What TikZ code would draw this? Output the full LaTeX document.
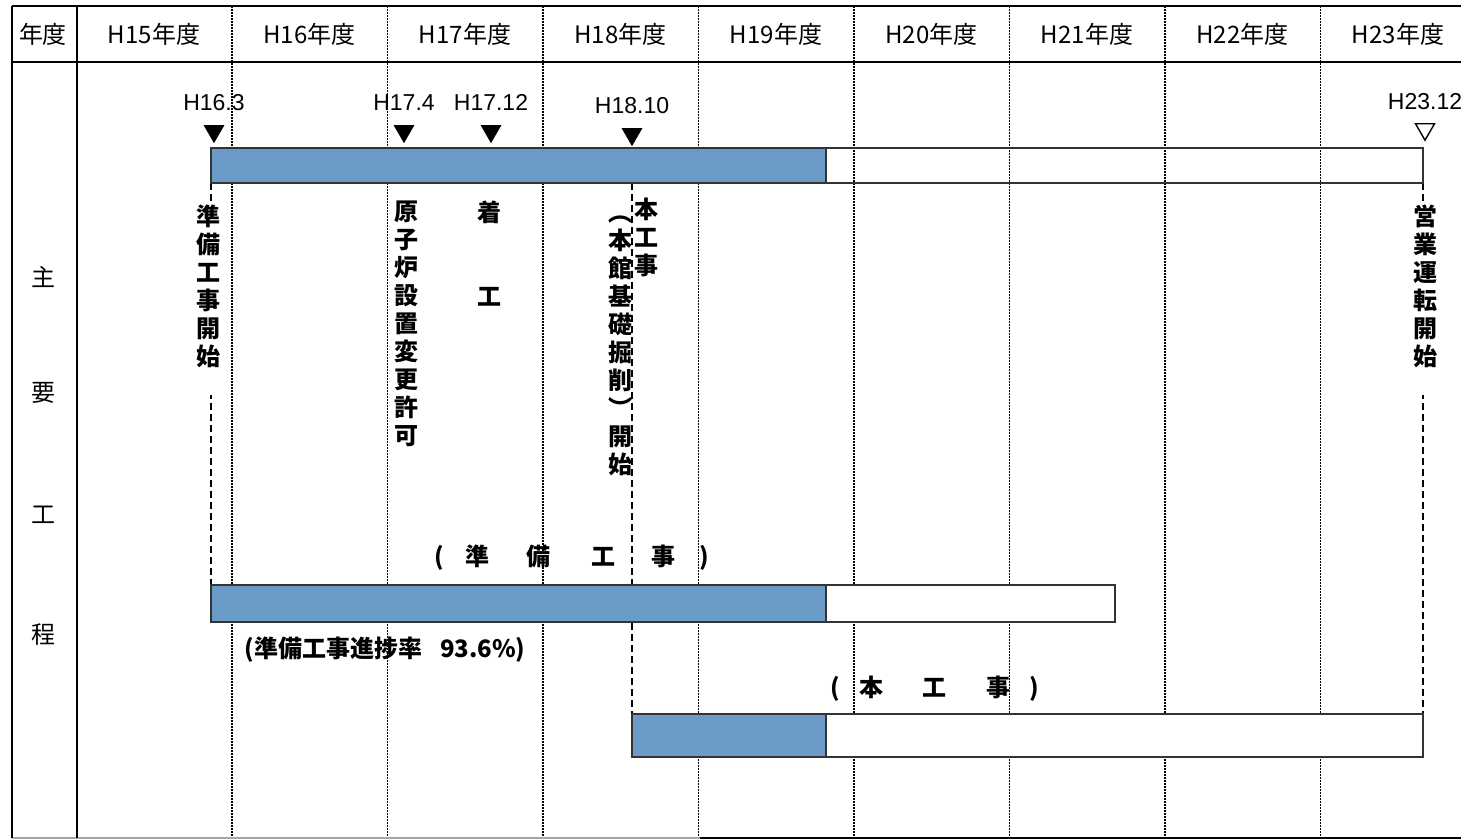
\documentclass[tikz,border=0pt]{standalone}
\usepackage{fontspec}
\setmainfont{Liberation Sans}
\newfontfamily\gothic{Noto Sans CJK JP}
\usepackage{xcolor}
\usepackage{tikz}
\usetikzlibrary{positioning, shapes.geometric}
\definecolor{barblue}{RGB}{106,155,198}

\begin{document}
\begin{tikzpicture}[x=1pt, y=-1pt,
	yeargrid/.style={line width=1.6pt, dash pattern=on 1.6pt off 1.4pt},
	rule/.style={line width=2.2pt},
	leader/.style={line width=1.3pt, dash pattern=on 7pt off 4pt},
	bar/.style={draw=black!80, line width=1.8pt},
	head/.style={font=\gothic\fontsize{24}{24}\selectfont, inner sep=0pt},
	vlabel/.style={font=\gothic\bfseries\fontsize{24}{28}\selectfont, align=center, anchor=north, inner xsep=2pt, inner ysep=0pt},
	note/.style={font=\gothic\bfseries\fontsize{24}{24}\selectfont, inner sep=0pt},
	due/.style={regular polygon, regular polygon sides=3, shape border rotate=180, minimum size=24pt, inner sep=0pt, anchor=north, fill=black},
	date/.style={font=\fontsize{23}{23}\selectfont, inner sep=0pt}]
	\useasboundingbox[fill=white] (0,0) rectangle (1461,840);
	\foreach \i in {0,...,7}
		\draw[yeargrid] ({232+155.5*\i},6) -- ({232+155.5*\i},837);
	\draw[rule] (12,6) -- (1461,6);
	\draw[rule] (12,62) -- (1461,62);
	\draw[line width=1.2pt, black!35] (12,838) -- (700,838);
	\draw[rule] (700,838) -- (1461,838);
	\draw[rule] (12,6) -- (12,838);
	\draw[rule] (77,6) -- (77,838);
	\node[head] (nendo) at (43,34) {年度};
	\foreach \n [count=\i from 0] in {15,...,23}
		\node[head] (y\n) at ({154+155.5*\i},34) {H\n{}年度};
	\node[head] (shu) at (43,277) {主};
	\node[head] (yo) at (43,393) {要};
	\node[head] (ko) at (43,515) {工};
	\node[head] (tei) at (43,635) {程};
	\draw[leader] (211,183) -- (211,585);
	\draw[leader] (632,183) -- (632,714);
	\draw[leader] (1423,183) -- (1423,714);
	\fill[barblue] (211,148) rectangle (826,183);
	\draw[bar] (211,148) rectangle (1423,183);
	\draw[bar] (826,148) -- (826,183);
	\fill[white] (826,585) rectangle (1115,622);
	\fill[barblue] (211,585) rectangle (826,622);
	\draw[bar] (211,585) rectangle (1115,622);
	\draw[bar] (826,585) -- (826,622);
	\fill[white] (826,714) rectangle (1423,757);
	\fill[barblue] (632,714) rectangle (826,757);
	\draw[bar] (632,714) rectangle (1423,757);
	\draw[bar] (826,714) -- (826,757);
	\node[due] (m163) at (214,125) {};
	\node[due] (m174) at (404,125) {};
	\node[due] (m1712) at (491,125) {};
	\node[due] (m1810) at (632,128) {};
	\node[due, fill=white, draw=black, line width=1.4pt, minimum size=22pt] (m2312) at (1425,123) {};
	\node[date, above=14pt of m163] (d163) {H16.3};
	\node[date, above=14pt of m174] (d174) {H17.4};
	\node[date, above=14pt of m1712] (d1712) {H17.12};
	\node[date, above=14pt of m1810] (d1810) {H18.10};
	\node[date, above=13pt of m2312] (d2312) {H23.12};
	\node[vlabel, fill=white] (kaishi) at (208,205) {準\\備\\工\\事\\開\\始\\[1pt]~};
	\node[vlabel] (kyoka) at (406,201) {原\\子\\炉\\設\\置\\変\\更\\許\\可};
	\node[vlabel] (chakko) at (489,201) {着\\[56pt]工};
	\node[vlabel] (honkan) at (620,200) {\rule{0pt}{21pt}︵\\本\\館\\基\\礎\\掘\\削\\︶\\開\\始};
	\node[vlabel] (honkoji) at (646,198) {本\\工\\事};
	\node[vlabel, fill=white] (eigyo) at (1425,205) {営\\業\\運\\転\\開\\始\\[1pt]~};
	\node[note] (junbi) at (572,558) {(\hspace{21pt}準\hspace{38pt}備\hspace{40pt}工\hspace{36pt}事\hspace{25pt})};
	\node[note] (shinchoku) at (385,650) {(準備工事進捗率\hspace{18pt}93.6\%)};
	\node[note] (honko) at (935,689) {(\hspace{19pt}本\hspace{39pt}工\hspace{40pt}事\hspace{19pt})};
\end{tikzpicture}
\end{document}
